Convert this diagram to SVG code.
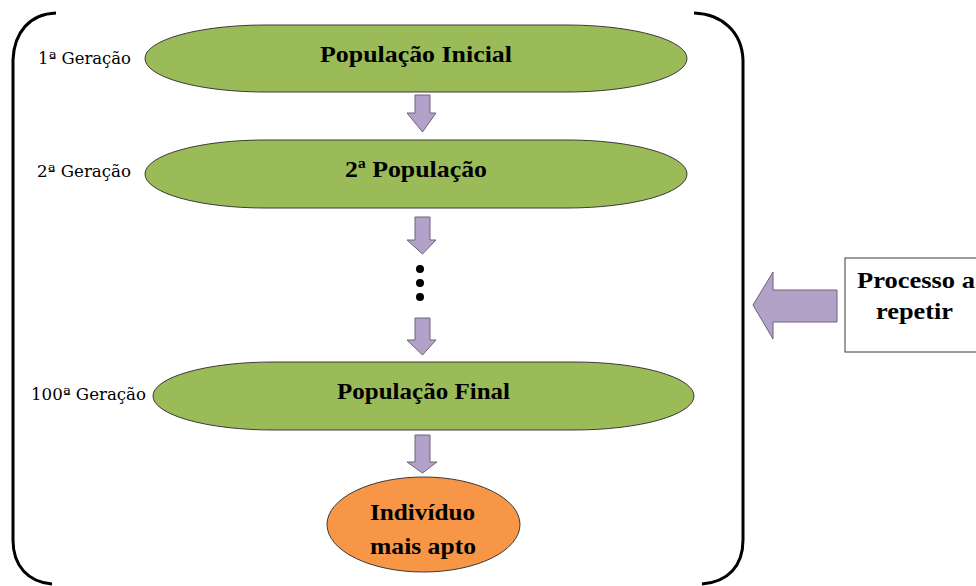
<svg xmlns="http://www.w3.org/2000/svg" width="976" height="586" viewBox="0 0 976 586">
<style>
.pop{fill:#9BBB59;stroke:#3a3a3a;stroke-width:1}
.best{fill:#F79646;stroke:#3a3a3a;stroke-width:1}
.arr{fill:#B3A2C7;stroke:#6f6080;stroke-width:1}
.t{font-family:"Liberation Serif","DejaVu Serif",serif;font-weight:bold;font-size:23px;fill:#000;text-anchor:middle}
.g{font-family:"DejaVu Serif","Liberation Serif",serif;font-size:16px;fill:#000;text-anchor:end}
.brk{fill:none;stroke:#000;stroke-width:3}
</style>
<path class="brk" d="M56,13 C30,14 14,32 13,60 L13,540 C13,566 28,582 52,584"/>
<path class="brk" d="M694,13 C722,14 742,32 743,60 L743,540 C743,566 728,582 702,584"/>
<g id="connectors">
<path class="arr" d="M415,95 L430,95 L430,113 L436,113 L422.5,132 L407,113 L415,113 Z"/>
<path class="arr" d="M415,217 L430,217 L430,240 L436,240 L422.5,254 L407,240 L415,240 Z"/>
<path class="arr" d="M415,318 L430,318 L430,340 L436,340 L422.5,355 L407,340 L415,340 Z"/>
<path class="arr" d="M415,435 L430,435 L430,462 L437,462 L422.5,473 L407,462 L415,462 Z"/>
<circle cx="420" cy="269" r="4" fill="#000"/>
<circle cx="420" cy="283" r="4" fill="#000"/>
<circle cx="420" cy="297" r="4" fill="#000"/>
<path class="arr" d="M837,290 L773,290 L773,272 L753,305 L773,339 L773,322 L837,322 Z"/>
</g>
<g id="pop1">
<rect class="pop" x="145" y="25" width="542" height="67" rx="120" ry="33.5"/>
<text class="t" x="416" y="62" textLength="192" lengthAdjust="spacingAndGlyphs">População  Inicial</text>
<text class="g" x="131" y="64" textLength="93" lengthAdjust="spacingAndGlyphs">1ª Geração</text>
</g>
<g id="pop2">
<rect class="pop" x="145" y="140" width="542" height="68" rx="120" ry="34"/>
<text class="t" x="416" y="177" textLength="142" lengthAdjust="spacingAndGlyphs">2ª População</text>
<text class="g" x="131" y="177" textLength="94" lengthAdjust="spacingAndGlyphs">2ª Geração</text>
</g>
<g id="popFinal">
<rect class="pop" x="153" y="362" width="541" height="68" rx="120" ry="34"/>
<text class="t" x="423.5" y="399" textLength="173" lengthAdjust="spacingAndGlyphs">População Final</text>
<text class="g" x="146" y="400" textLength="115" lengthAdjust="spacingAndGlyphs">100ª Geração</text>
</g>
<g id="best">
<ellipse class="best" cx="423.5" cy="524.5" rx="96.5" ry="47.5"/>
<text class="t" x="422.5" y="520" textLength="105" lengthAdjust="spacingAndGlyphs">Indivíduo</text>
<text class="t" x="423" y="554" textLength="106" lengthAdjust="spacingAndGlyphs">mais apto</text>
</g>
<g id="process">
<rect x="845" y="258" width="140" height="94" fill="#fff" stroke="#3a3a3a" stroke-width="1"/>
<text class="t" x="916" y="288" textLength="118" lengthAdjust="spacingAndGlyphs">Processo a</text>
<text class="t" x="914.5" y="319" textLength="77" lengthAdjust="spacingAndGlyphs">repetir</text>
</g>
</svg>
